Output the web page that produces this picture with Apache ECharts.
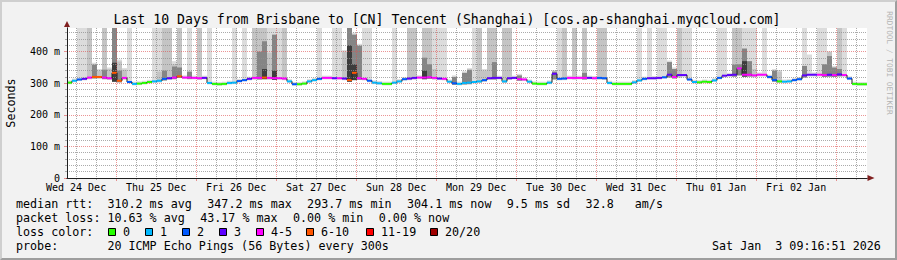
<!DOCTYPE html>
<html><head><meta charset="utf-8">
<script src="https://cdn.jsdelivr.net/npm/echarts@6/dist/echarts.min.js"></script>
<style>
html,body{margin:0;padding:0;background:#f2f2f2;}
#wrap{position:relative;width:897px;height:260px;overflow:hidden;}
#chart{position:absolute;left:0;top:0;width:897px;height:260px;}
#frame{position:absolute;left:0;top:0;width:897px;height:260px;box-sizing:border-box;border-style:solid;border-width:2px;border-color:#cfcfcf #9e9e9e #9e9e9e #cfcfcf;pointer-events:none;}
</style></head><body>
<div id="wrap"><div id="chart"></div><div id="frame"></div></div>
<script>
// time axis: hours since Wed 24 Dec 00:00
const START_HOUR = 9 + 16/60 + 51/3600;
const SPAN_HOURS = 240;
const SLOT_HOURS = 1.5;
const Y_MAX = 475;

const dayLabels = ['Wed 24 Dec','Thu 25 Dec','Fri 26 Dec','Sat 27 Dec','Sun 28 Dec','Mon 29 Dec','Tue 30 Dec','Wed 31 Dec','Thu 01 Jan','Fri 02 Jan'];
const dayLabelHours = [12,36,60,84,108,132,156,180,204,228];
const minorGridHours = [12,18,30,36,42,54,60,66,78,84,90,102,108,114,126,132,138,150,156,162,174,180,186,198,204,210,222,228,234,246];
const majorGridHours = [24,48,72,96,120,144,168,192,216,240];
const yMajorTicks = [0,100,200,300,400];
const yMinorTicks = [20,40,60,80,120,140,160,180,220,240,260,280,320,340,360,380,420,440,460];

// median rtt (ms), one value per 1.5 h slot (16 slots per row = 24 h)
const median = [
 302,308,312,314,318,320,320,318,316,333,308,317,304,298,299,301,
 304,306,308,314,316,318,322,318,318,317,316,317,301,298,297,298,
 301,302,307,310,314,317,317,318,317,316,316,315,306,297,297,299,
 306,310,314,317,317,316,316,315,310,333,316,314,308,302,300,298,
 298,302,306,313,315,317,318,318,319,317,315,314,305,300,298,301,
 302,304,306,310,316,317,317,306,316,317,313,312,305,299,298,298,
 302,330,314,315,317,317,317,317,317,316,317,316,301,298,298,298,
 298,303,309,314,316,316,317,319,327,320,326,326,312,304,303,305,
 304,309,317,324,326,327,347,327,327,325,327,327,320,310,306,305,
 306,310,313,325,327,327,327,326,327,326,328,326,315,298,297,297
];
// loss colour class per slot (index into lossColors)
const lossClass = [
 0,1,2,3,4,5,5,4,4,5,5,4,2,1,0,0,
 0,1,1,2,3,4,5,4,4,4,4,3,1,0,0,0,
 1,1,2,2,3,4,4,5,4,4,4,4,1,2,0,0,
 1,1,2,4,4,3,4,3,5,5,4,4,2,1,1,0,
 0,1,1,2,3,3,4,4,4,4,3,4,1,2,1,1,
 1,1,1,2,3,3,3,1,3,3,4,4,1,0,0,0,
 1,3,2,2,4,4,4,4,3,4,2,2,1,0,0,0,
 0,1,1,2,3,3,3,2,3,4,3,3,2,1,0,0,
 0,1,2,3,3,3,4,4,4,4,4,4,2,2,0,1,
 1,2,2,3,3,3,4,4,3,4,3,4,2,0,0,0
];
// smoke: lowest ping, then tops of the pale / mid / dark / core bands (0 = none, 480 = above chart)
const smokeLo = [
 297,303,307,309,313,315,315,313,311,305,303,312,299,293,294,296,
 299,301,303,309,311,313,317,313,313,312,311,312,296,293,292,293,
 296,297,302,305,309,312,312,313,312,311,311,310,301,292,292,294,
 301,305,309,312,312,311,311,310,305,310,311,309,303,297,295,293,
 293,297,301,308,310,312,313,313,314,312,310,309,300,295,293,296,
 297,299,301,305,311,312,312,301,311,312,308,307,300,294,293,293,
 297,312,309,310,312,312,312,312,312,311,312,311,296,293,293,293,
 293,298,304,309,311,311,312,314,318,315,318,319,307,299,298,300,
 299,304,312,318,320,321,325,321,321,319,321,321,314,305,301,300,
 301,305,308,318,321,321,321,320,321,320,322,320,310,293,292,292
];
const smokePale = [
 309,315,480,480,480,365,345,480,350,480,375,348,480,305,306,308,
 311,480,480,480,480,370,480,325,480,324,480,324,480,305,304,305,
 308,480,314,480,321,480,480,480,480,480,480,480,313,304,304,306,
 313,317,480,324,324,480,480,405,480,460,425,480,480,309,307,305,
 305,480,313,320,480,480,325,480,480,480,480,480,312,325,305,338,
 348,480,480,345,480,480,324,480,480,324,330,319,312,306,305,305,
 309,342,480,480,324,480,324,480,324,323,480,480,308,305,305,305,
 305,310,480,321,480,323,480,480,372,350,480,480,480,311,310,312,
 311,316,480,480,333,480,480,480,480,480,334,480,327,345,342,312,
 313,317,320,480,391,334,480,480,400,355,480,480,322,305,304,304
];
const smokeMid = [
 0,0,0,0,480,0,340,480,345,480,369,343,0,0,0,0,
 0,0,337,480,480,360,480,0,0,0,480,0,0,0,0,0,
 0,0,0,0,0,480,480,480,397,0,0,480,0,0,0,0,
 0,0,0,0,0,0,0,400,0,0,0,0,0,0,0,0,
 0,0,0,0,480,480,0,480,480,345,0,0,0,0,0,0,
 0,0,480,340,480,480,0,480,480,0,0,0,0,0,0,0,
 0,0,0,480,0,480,0,480,0,0,480,480,0,0,0,0,
 0,0,0,0,0,0,0,0,0,0,480,0,0,0,0,0,
 0,0,0,0,0,480,480,0,0,345,0,0,0,0,337,0,
 0,0,0,0,0,0,0,0,400,0,480,0,0,0,0,0
];
const smokeDark = [
 0,0,0,0,0,359,0,343,0,480,340,0,0,0,0,0,
 0,0,0,340,0,353,350,0,337,0,0,0,0,0,0,0,
 0,0,0,0,0,0,400,433,0,454,0,0,0,0,0,0,
 0,0,0,0,0,0,0,0,480,454,419,0,0,0,0,0,
 0,0,0,0,0,0,0,381,360,0,0,0,0,320,0,333,
 343,0,0,0,0,367,0,0,0,0,325,0,0,0,0,0,
 0,337,0,0,0,0,0,333,0,0,0,0,0,0,0,0,
 0,0,0,0,0,0,0,0,367,345,0,0,0,0,0,0,
 0,0,0,0,0,359,360,410,370,0,0,0,0,340,0,0,
 0,0,0,355,0,0,0,360,386,350,345,0,0,0,0,0
];
const smokeCore = [
 0,0,0,0,0,0,0,0,0,365,0,0,0,0,0,0,
 0,0,0,0,0,0,0,0,0,0,0,0,0,0,0,0,
 0,0,0,0,0,0,0,345,0,340,0,0,0,0,0,0,
 0,0,0,0,0,0,0,0,420,360,0,0,0,0,0,0,
 0,0,0,0,0,0,0,340,0,0,0,0,0,0,0,0,
 0,0,0,0,0,0,0,0,0,0,0,0,0,0,0,0,
 0,0,0,0,0,0,0,0,0,0,0,0,0,0,0,0,
 0,0,0,0,0,0,0,0,0,0,0,0,0,0,0,0,
 0,0,0,0,0,0,0,370,0,0,0,0,0,0,0,0,
 0,0,0,0,0,0,0,0,0,0,0,0,0,0,0,0
];

const lossColors = ['#26ff00','#00b8ff','#0059ff','#5e00ff','#ff00ff','#ff5500','#ff0000','#a00000'];
const lossLabels = ['0','1','2','3','4-5','6-10','11-19','20/20'];
const smokeColors = ['#dcdcdc','#c4c4c4','#858585','#3c3c3c'];

const MONO = '"DejaVu Sans Mono", monospace';
const GRID_C = 'rgba(143,143,143,0.75)';
const MGRID_C = 'rgba(222,79,79,0.6)';

const slotData = median.map((m, i) => [
  START_HOUR + i * SLOT_HOURS, smokeLo[i], smokePale[i], smokeMid[i], smokeDark[i], smokeCore[i]
]);
const lineData = median.map((m, i) => [
  START_HOUR + i * SLOT_HOURS, m, lossClass[i], i > 0 ? median[i - 1] : m
]);

function renderSmoke(params, api) {
  const t0 = api.value(0), t1 = t0 + SLOT_HOURS;
  const lo = api.value(1);
  const children = [];
  for (let k = 0; k < 4; k++) {
    const v = api.value(2 + k);
    if (!v) continue;
    const p0 = api.coord([t0, Math.min(v, Y_MAX)]);
    const p1 = api.coord([t1, lo]);
    children.push({type: 'rect', shape: {x: p0[0], y: p0[1], width: p1[0] - p0[0], height: p1[1] - p0[1]},
      style: {fill: smokeColors[k]}});
  }
  return {type: 'group', children};
}
function renderMedian(params, api) {
  const t0 = api.value(0), t1 = t0 + SLOT_HOURS;
  const m = api.value(1), li = api.value(2), prev = api.value(3);
  const a = api.coord([t0, prev]), b = api.coord([t0, m]), c = api.coord([t1, m]);
  return {type: 'group', children: [
    {type: 'line', shape: {x1: b[0], y1: a[1], x2: b[0], y2: b[1]}, style: {stroke: '#202020', lineWidth: 1}},
    {type: 'line', shape: {x1: b[0], y1: b[1], x2: c[0], y2: c[1]}, style: {stroke: lossColors[li], lineWidth: 2}}
  ]};
}

// legend / caption texts
const graphics = [];
function txt(x, y, s, opt) {
  graphics.push(Object.assign({type: 'text', x, y, silent: true, z: 20,
    style: Object.assign({text: s, font: '11.7px ' + MONO, fill: '#000', textVerticalAlign: 'middle'}, (opt || {}).style || {})},
    (opt || {}).el || {}));
}
txt(447, 19, 'Last 10 Days from Brisbane to [CN] Tencent (Shanghai) [cos.ap-shanghai.myqcloud.com]',
  {style: {font: '13.2px ' + MONO, textAlign: 'center'}});
const row1 = [[16,'median rtt:'],[107.4,'310.2 ms avg'],[207.3,'347.2 ms max'],[307.1,'293.7 ms min'],[407,'304.1 ms now'],[506.8,'9.5 ms sd'],[585.6,'32.8'],[634.8,'am/s']];
row1.forEach(r => txt(r[0], 204, r[1]));
const row2 = [[16,'packet loss:'],[107.4,'10.63 % avg'],[200.2,'43.17 % max'],[293,'0.00 % min'],[378.8,'0.00 % now']];
row2.forEach(r => txt(r[0], 218, r[1]));
txt(16, 232, 'loss color:');
const boxX = [108.5,145.5,182.5,219.5,256.5,306.5,366.5,430.5];
lossLabels.forEach((l, k) => {
  graphics.push({type: 'rect', silent: true, z: 20, shape: {x: boxX[k], y: 228.5, width: 7, height: 7},
    style: {fill: lossColors[k], stroke: '#000', lineWidth: 1}});
  txt(boxX[k] + 14.5, 232, l);
});
txt(16, 246, 'probe:');
txt(107.4, 246, '20 ICMP Echo Pings (56 Bytes) every 300s');
txt(712, 246, 'Sat Jan');
txt(775.3, 246, '3 09:16:51 2026');
graphics.push({type: 'text', x: 889, y: 63, rotation: -Math.PI / 2, silent: true, z: 20,
  style: {text: 'RRDTOOL / TOBI OETIKER', font: '7.8px ' + MONO, fill: '#b4b4b4', textAlign: 'center', textVerticalAlign: 'middle'}});

const xBase = {type: 'value', min: START_HOUR, max: START_HOUR + SPAN_HOURS, gridIndex: 0, position: 'bottom'};
const yBase = {type: 'value', min: 0, max: Y_MAX, gridIndex: 0, position: 'left'};

const chart = echarts.init(document.getElementById('chart'), null, {renderer: 'svg'});
chart.setOption({
  animation: false,
  backgroundColor: '#f2f2f2',
  grid: {left: 67, top: 28, width: 800, height: 150, show: true, backgroundColor: '#ffffff', borderWidth: 0, outerBoundsMode: 'none', containLabel: false},
  xAxis: [
    Object.assign({}, xBase, {z: 6,
      axisLine: {show: true, lineStyle: {color: '#1f1f1f', width: 1}},
      axisTick: {show: false}, splitLine: {show: false},
      axisLabel: {show: true, customValues: dayLabelHours, margin: 4, fontFamily: MONO, fontSize: 10, color: '#000',
        formatter: v => dayLabels[dayLabelHours.indexOf(Math.round(v))] || ''}}),
    Object.assign({}, xBase, {z: 3,
      axisLine: {show: false}, axisLabel: {show: false},
      axisTick: {show: true, customValues: minorGridHours, length: 2, lineStyle: {color: GRID_C}},
      splitLine: {show: true, lineStyle: {color: GRID_C, width: 1, type: [1, 1]}}}),
    Object.assign({}, xBase, {z: 3,
      axisLine: {show: true, symbol: ['none', 'triangle'], symbolSize: [6, 7], symbolOffset: [0, 4], lineStyle: {color: '#801f1f'}},
      axisLabel: {show: false},
      axisTick: {show: true, customValues: majorGridHours, length: 3, lineStyle: {color: MGRID_C}},
      splitLine: {show: true, lineStyle: {color: MGRID_C, width: 1, type: [1, 1]}}})
  ],
  yAxis: [
    Object.assign({}, yBase, {z: 3,
      axisLine: {show: false}, axisLabel: {show: false},
      axisTick: {show: true, customValues: yMinorTicks, length: 2, lineStyle: {color: GRID_C}},
      splitLine: {show: true, lineStyle: {color: GRID_C, width: 1, type: [1, 1]}}}),
    Object.assign({}, yBase, {z: 3,
      name: 'Seconds', nameLocation: 'middle', nameGap: 50, nameRotate: 90,
      nameTextStyle: {fontFamily: MONO, fontSize: 11.7, color: '#000'},
      axisLine: {show: true, symbol: ['none', 'triangle'], symbolSize: [6, 6], symbolOffset: [0, 4], lineStyle: {color: '#801f1f'}},
      axisLabel: {show: true, customValues: yMajorTicks, margin: 7, fontFamily: MONO, fontSize: 10, color: '#000',
        formatter: v => v === 0 ? '0' : v + ' m'},
      axisTick: {show: true, customValues: yMajorTicks, length: 3, lineStyle: {color: MGRID_C}},
      splitLine: {show: true, lineStyle: {color: MGRID_C, width: 1, type: [1, 1]}}}),
    Object.assign({}, yBase, {z: 6,
      axisLine: {show: true, lineStyle: {color: '#1f1f1f'}}, axisLabel: {show: false},
      axisTick: {show: false}, splitLine: {show: false}})
  ],
  series: [
    {type: 'custom', name: 'smoke', xAxisIndex: 0, yAxisIndex: 0, z: 2, clip: true,
      renderItem: renderSmoke, data: slotData, silent: true},
    {type: 'custom', name: 'median', xAxisIndex: 0, yAxisIndex: 0, z: 4, clip: true,
      renderItem: renderMedian, data: lineData, silent: true}
  ],
  graphic: graphics
});
</script>
</body></html>
